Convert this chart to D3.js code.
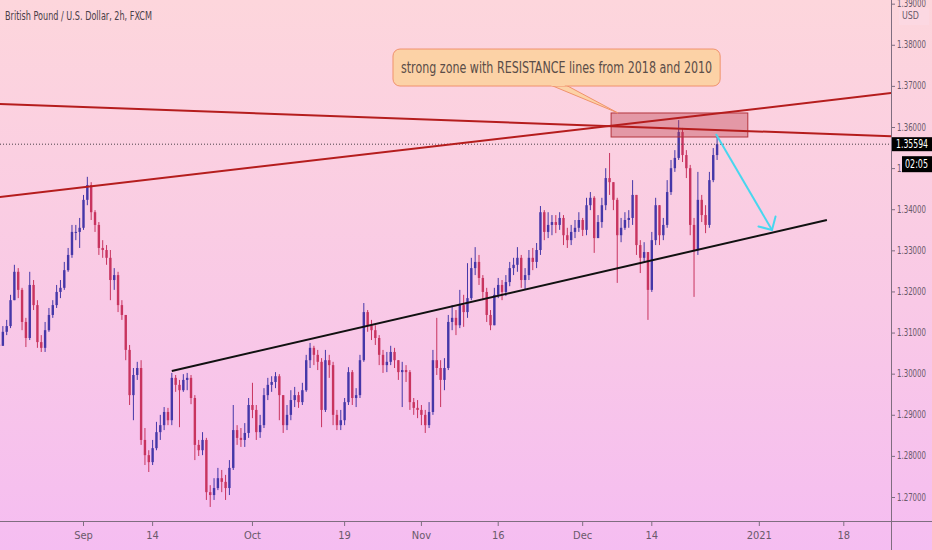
<!DOCTYPE html>
<html><head><meta charset="utf-8">
<script src="https://cdn.jsdelivr.net/npm/d3@7"></script>
<style>html,body{margin:0;padding:0;overflow:hidden;background:#fbd2e4}</style>
</head><body><svg id="c" width="932" height="550"></svg>
<script>
// ---- data ----
const barStartDay = -11;      // trading-day index of first 12h bar (Sep 1 2020 = 0)
const barStepDay = 0.5;       // 12h bars
const firstOpen = 1.3072;
const highs = [1.3107,1.3117,1.3132,1.3193,1.3266,1.3258,1.3210,1.3137,1.3249,1.3229,
1.3180,1.3095,1.3127,1.3161,1.3180,1.3217,1.3229,1.3273,1.3307,1.3363,
1.3363,1.3380,1.3436,1.3480,1.3467,1.3399,1.3370,1.3326,1.3314,1.3302,
1.3258,1.3249,1.3180,1.3144,1.3071,1.3015,1.3030,1.3034,1.2869,1.2815,
1.2840,1.2884,1.2901,1.2920,1.2918,1.3003,1.2998,1.2986,1.3000,1.3003,
1.2998,1.2949,1.2840,1.2859,1.2845,1.2730,1.2747,1.2772,1.2767,1.2755,
1.2791,1.2925,1.2876,1.2869,1.2881,1.2942,1.2979,1.2925,1.2901,1.2966,
1.2991,1.2995,1.3005,1.3000,1.2949,1.2925,1.2961,1.2969,1.2957,1.2979,
1.3047,1.3076,1.3069,1.3059,1.3039,1.3059,1.3047,1.3030,1.2913,1.2913,
1.2942,1.3017,1.3010,1.2966,1.3047,1.3173,1.3156,1.3132,1.3119,1.3095,
1.3059,1.3054,1.3069,1.3064,1.3034,1.3030,1.3022,1.3010,1.2942,1.2937,
1.2925,1.2913,1.2932,1.3059,1.3137,1.3034,1.3039,1.3144,1.3168,1.3156,
1.3205,1.3193,1.3270,1.3283,1.3309,1.3290,1.3241,1.3210,1.3156,1.3210,
1.3234,1.3229,1.3241,1.3273,1.3283,1.3309,1.3290,1.3258,1.3302,1.3307,
1.3319,1.3409,1.3399,1.3394,1.3387,1.3387,1.3394,1.3387,1.3356,1.3363,
1.3375,1.3394,1.3380,1.3429,1.3443,1.3433,1.3387,1.3429,1.3501,1.3538,
1.3460,1.3429,1.3380,1.3394,1.3399,1.3472,1.3436,1.3326,1.3321,1.3290,
1.3346,1.3429,1.3411,1.3380,1.3472,1.3521,1.3545,1.3618,1.3599,1.3545,
1.3509,1.3380,1.3492,1.3436,1.3411,1.3492,1.3550,1.3577];
const lows = [1.3078,1.3083,1.3095,1.3112,1.3180,1.3185,1.3107,1.3066,1.3083,1.3156,
1.3064,1.3054,1.3054,1.3103,1.3137,1.3161,1.3185,1.3205,1.3249,1.3283,
1.3326,1.3307,1.3351,1.3411,1.3375,1.3346,1.3290,1.3283,1.3266,1.3180,
1.3205,1.3151,1.3132,1.3034,1.2925,1.2888,1.2986,1.2828,1.2779,1.2762,
1.2779,1.2815,1.2840,1.2864,1.2876,1.2876,1.2957,1.2871,1.2957,1.2961,
1.2927,1.2791,1.2801,1.2803,1.2694,1.2677,1.2694,1.2718,1.2713,1.2694,
1.2706,1.2767,1.2828,1.2823,1.2823,1.2845,1.2893,1.2840,1.2845,1.2869,
1.2937,1.2957,1.2966,1.2888,1.2857,1.2864,1.2888,1.2920,1.2918,1.2925,
1.2957,1.3015,1.3022,1.3010,1.2871,1.2908,1.2991,1.2876,1.2864,1.2864,
1.2876,1.2925,1.2925,1.2920,1.2942,1.3030,1.3103,1.3083,1.3071,1.3022,
1.3003,1.3005,1.3022,1.3015,1.2986,1.2920,1.2981,1.2913,1.2901,1.2893,
1.2876,1.2857,1.2869,1.2901,1.2998,1.2920,1.2961,1.3010,1.3107,1.3095,
1.3112,1.3115,1.3137,1.3180,1.3241,1.3217,1.3180,1.3127,1.3107,1.3127,
1.3185,1.3180,1.3190,1.3214,1.3241,1.3249,1.3210,1.3205,1.3229,1.3253,
1.3258,1.3290,1.3326,1.3331,1.3338,1.3343,1.3351,1.3314,1.3307,1.3314,
1.3331,1.3346,1.3336,1.3338,1.3399,1.3295,1.3346,1.3356,1.3399,1.3436,
1.3399,1.3222,1.3321,1.3351,1.3356,1.3363,1.3290,1.3246,1.3273,1.3132,
1.3200,1.3314,1.3314,1.3326,1.3356,1.3436,1.3492,1.3521,1.3516,1.3477,
1.3338,1.3188,1.3290,1.3370,1.3343,1.3356,1.3467,1.3521];
const closes = [1.3069,1.3103,1.3117,1.3180,1.3249,1.3205,1.3127,1.3088,1.3217,1.3168,
1.3078,1.3064,1.3107,1.3144,1.3168,1.3200,1.3210,1.3253,1.3290,1.3346,
1.3346,1.3356,1.3424,1.3460,1.3394,1.3363,1.3307,1.3302,1.3283,1.3229,
1.3241,1.3168,1.3144,1.3059,1.2949,1.2998,1.3015,1.2840,1.2803,1.2786,
1.2820,1.2859,1.2876,1.2908,1.2888,1.2991,1.2974,1.2961,1.2986,1.2991,
1.2942,1.2828,1.2815,1.2840,1.2713,1.2706,1.2723,1.2747,1.2738,1.2723,
1.2772,1.2864,1.2845,1.2840,1.2857,1.2925,1.2913,1.2859,1.2876,1.2949,
1.2974,1.2981,1.2995,1.2949,1.2876,1.2901,1.2937,1.2949,1.2932,1.2961,
1.3034,1.3064,1.3047,1.3030,1.2913,1.3034,1.3022,1.2901,1.2876,1.2888,
1.2932,1.3005,1.2942,1.2949,1.3034,1.3151,1.3119,1.3107,1.3088,1.3047,
1.3022,1.3030,1.3054,1.3034,1.3005,1.3010,1.3005,1.2932,1.2918,1.2913,
1.2901,1.2876,1.2908,1.3034,1.3015,1.2986,1.3015,1.3127,1.3137,1.3119,
1.3168,1.3151,1.3185,1.3258,1.3273,1.3234,1.3200,1.3144,1.3119,1.3193,
1.3217,1.3200,1.3224,1.3258,1.3266,1.3283,1.3229,1.3241,1.3283,1.3273,
1.3302,1.3394,1.3346,1.3363,1.3370,1.3363,1.3380,1.3338,1.3326,1.3346,
1.3356,1.3375,1.3351,1.3411,1.3429,1.3331,1.3370,1.3411,1.3477,1.3467,
1.3424,1.3338,1.3356,1.3375,1.3380,1.3436,1.3314,1.3283,1.3297,1.3205,
1.3326,1.3411,1.3338,1.3363,1.3443,1.3501,1.3526,1.3589,1.3533,1.3501,
1.3363,1.3302,1.3424,1.3387,1.3363,1.3472,1.3533,1.35594];

const xTickDays   = [0, 9, 22, 34, 44, 54, 65, 74, 88, 99];
const xTickLabels = ["Sep","14","Oct","19","Nov","16","Dec","14","2021","18"];
const yTickValues = [1.27,1.28,1.29,1.30,1.31,1.32,1.33,1.34,1.35,1.36,1.37,1.38,1.39];
const lastPrice = 1.35594;
const countdown = "02:05";
const title = "British Pound / U.S. Dollar, 2h, FXCM";
const noteText = "strong zone with RESISTANCE lines from 2018 and 2010";
// drawings in (trading day, price)
const resistance2010 = [[-11, 1.36572], [106, 1.35781]];
const resistance2018 = [[-11, 1.34309], [106, 1.36855]];
const supportLine = [[11.5, 1.30077], [96.8, 1.3375]];
const zone = {d0: 68.7, d1: 86.5, p0: 1.36353, p1: 1.35769};
const arrow = [[82.35, 1.35842], [89.65, 1.33507]];
const note = {d0: 40.3, d1: 82.9, p0: 1.37909, p1: 1.37009, tip: [69.6, 1.36353], base: [60.8, 62.8]};

// ---- layout ----
const W = 932, H = 550, plotR = 891, plotB = 521;
const svg = d3.select("#c");
const x = d3.scaleLinear().domain([0, 99]).range([83.5, 843.8]);
const y = d3.scaleLinear().domain([1.27, 1.36]).range([497.5, 127.5]);
const FONT = "'Liberation Sans Narrow','DejaVu Sans Condensed','Liberation Sans',sans-serif";

const defs = svg.append("defs");
const g = defs.append("linearGradient").attr("id","bg").attr("x1",0).attr("y1",0).attr("x2",0).attr("y2",1);
g.append("stop").attr("offset","0%").attr("stop-color","#fdd6dc");
g.append("stop").attr("offset","55%").attr("stop-color","#f9c9e6");
g.append("stop").attr("offset","100%").attr("stop-color","#f5bdf1");
defs.append("clipPath").attr("id","clip").append("rect").attr("x",0).attr("y",0).attr("width",plotR).attr("height",plotB);
svg.append("rect").attr("width",W).attr("height",H).attr("fill","url(#bg)");

const plot = svg.append("g").attr("clip-path","url(#clip)");

// candles
const bars = closes.map((c,i)=>({d: barStartDay + i*barStepDay, o: i===0?firstOpen:closes[i-1], h: highs[i], l: lows[i], c}));
const UP = "#4537a8", DN = "#c8345f";
const cg = plot.append("g");
cg.selectAll("line").data(bars).join("line")
  .attr("x1", b=>x(b.d)).attr("x2", b=>x(b.d))
  .attr("y1", b=>y(Math.max(b.h,b.o,b.c))).attr("y2", b=>y(Math.min(b.l,b.o,b.c)))
  .attr("stroke", b=>b.c>=b.o?UP:DN).attr("stroke-width",1);
cg.selectAll("rect").data(bars).join("rect")
  .attr("x", b=>x(b.d)-1.2).attr("width",2.4)
  .attr("y", b=>y(Math.max(b.o,b.c)))
  .attr("height", b=>Math.max(1, Math.abs(y(b.o)-y(b.c))))
  .attr("fill", b=>b.c>=b.o?UP:DN);

// last price dotted line
plot.append("line").attr("x1",0).attr("x2",plotR).attr("y1",y(lastPrice)).attr("y2",y(lastPrice))
  .attr("stroke","#4a4048").attr("stroke-width",1).attr("stroke-dasharray","1,2");

// zone
plot.append("rect").attr("x",x(zone.d0)).attr("width",x(zone.d1)-x(zone.d0))
  .attr("y",y(zone.p0)).attr("height",y(zone.p1)-y(zone.p0))
  .attr("fill","rgba(190,60,70,0.38)").attr("stroke","#b3343c").attr("stroke-width",1);

// resistance lines
const ln = d3.line().x(p=>x(p[0])).y(p=>y(p[1]));
[resistance2010, resistance2018].forEach(l=>{
  plot.append("path").attr("d",ln(l)).attr("fill","none").attr("stroke","#b51d1d").attr("stroke-width",2);
});
// support line
plot.append("path").attr("d",ln(supportLine)).attr("fill","none").attr("stroke","#111").attr("stroke-width",2);

// arrow
const ax0 = x(arrow[0][0]), ay0 = y(arrow[0][1]), ax1 = x(arrow[1][0]), ay1 = y(arrow[1][1]);
plot.append("path").attr("d",ln(arrow)).attr("stroke","#48d6ee").attr("stroke-width",2).attr("fill","none");
const ang = Math.atan2(ay1-ay0, ax1-ax0), hl = 14;
[ang+Math.PI*0.75, ang-Math.PI*0.75].forEach(a=>{
  plot.append("line").attr("x1",ax1).attr("y1",ay1).attr("x2",ax1+hl*Math.cos(a)).attr("y2",ay1+hl*Math.sin(a))
    .attr("stroke","#48d6ee").attr("stroke-width",2).attr("stroke-linecap","round");
});

// callout
const nx0 = x(note.d0), nx1 = x(note.d1), ny0 = y(note.p0), ny1 = y(note.p1);
plot.append("path").attr("d", `M${x(note.base[0])},${ny1-1} L${x(note.tip[0])},${y(note.tip[1])} L${x(note.base[1])},${ny1-1} Z`)
  .attr("fill","#fcd2a6").attr("stroke","#f0926c").attr("stroke-width",1);
plot.append("rect").attr("x",nx0).attr("y",ny0).attr("width",nx1-nx0).attr("height",ny1-ny0).attr("rx",7)
  .attr("fill","#fcd2a6").attr("stroke","#f0926c").attr("stroke-width",1);
plot.append("rect").attr("x",x(note.base[0])+1).attr("y",ny1-3).attr("width",x(note.base[1])-x(note.base[0])-2).attr("height",3).attr("fill","#fcd2a6");
plot.append("text").attr("x",(nx0+nx1)/2).attr("y",(ny0+ny1)/2+1).attr("text-anchor","middle").attr("dominant-baseline","middle")
  .attr("font-family",FONT).attr("font-size",15).attr("fill","#5a4d48")
  .attr("textLength",nx1-nx0-16).attr("lengthAdjust","spacingAndGlyphs").text(noteText);

// title
svg.append("text").attr("x",5).attr("y",20).attr("font-family",FONT).attr("font-size",12.5).attr("fill","#4a3f48")
  .attr("textLength",147).attr("lengthAdjust","spacingAndGlyphs").text(title);

// axes lines
svg.append("line").attr("x1",plotR+0.5).attr("x2",plotR+0.5).attr("y1",0).attr("y2",H).attr("stroke","#7f6e80").attr("stroke-width",1);
svg.append("line").attr("x1",0).attr("x2",W).attr("y1",plotB+0.5).attr("y2",plotB+0.5).attr("stroke","#7f6e80").attr("stroke-width",1);

// right axis
const ya = svg.append("g");
yTickValues.forEach(v=>{
  const yy = y(v);
  ya.append("line").attr("x1",plotR).attr("x2",plotR+4).attr("y1",yy).attr("y2",yy).attr("stroke","#7f6e80");
  ya.append("text").attr("x",plotR+6).attr("y",yy).attr("dominant-baseline","middle")
    .attr("font-family",FONT).attr("font-size",11).attr("fill","#6a5a6a")
    .attr("textLength",29).attr("lengthAdjust","spacingAndGlyphs").text(d3.format(".5f")(v));
});
// USD label box
svg.append("rect").attr("x",plotR+8).attr("y",8).attr("width",30).attr("height",17).attr("fill","#fcd8e2");
svg.append("text").attr("x",plotR+11).attr("y",16).attr("dominant-baseline","middle")
  .attr("font-family",FONT).attr("font-size",10.5).attr("fill","#6a5a6a")
  .attr("textLength",17).attr("lengthAdjust","spacingAndGlyphs").text("USD");

// price label + countdown
svg.append("rect").attr("x",plotR+1).attr("y",y(lastPrice)-7).attr("width",W-plotR).attr("height",14).attr("fill","#000");
svg.append("text").attr("x",plotR+5).attr("y",y(lastPrice)+0.5).attr("dominant-baseline","middle")
  .attr("font-family",FONT).attr("font-size",12).attr("fill","#fff")
  .attr("textLength",32).attr("lengthAdjust","spacingAndGlyphs").text(d3.format(".5f")(lastPrice));
svg.append("rect").attr("x",plotR+11).attr("y",y(lastPrice)+12).attr("width",W-plotR-11).attr("height",16).attr("fill","#000");
svg.append("text").attr("x",plotR+14).attr("y",y(lastPrice)+20.5).attr("dominant-baseline","middle")
  .attr("font-family",FONT).attr("font-size",12).attr("fill","#fff")
  .attr("textLength",23).attr("lengthAdjust","spacingAndGlyphs").text(countdown);

// bottom axis
const xa = svg.append("g");
xTickDays.forEach((d,i)=>{
  const xx = x(d);
  xa.append("line").attr("x1",xx).attr("x2",xx).attr("y1",plotB+1).attr("y2",plotB+5).attr("stroke","#7f6e80");
  xa.append("text").attr("x",xx).attr("y",536).attr("text-anchor","middle").attr("dominant-baseline","middle")
    .attr("font-family",FONT).attr("font-size",11).attr("fill","#6a5a6a").text(xTickLabels[i]);
});
</script></body></html>
